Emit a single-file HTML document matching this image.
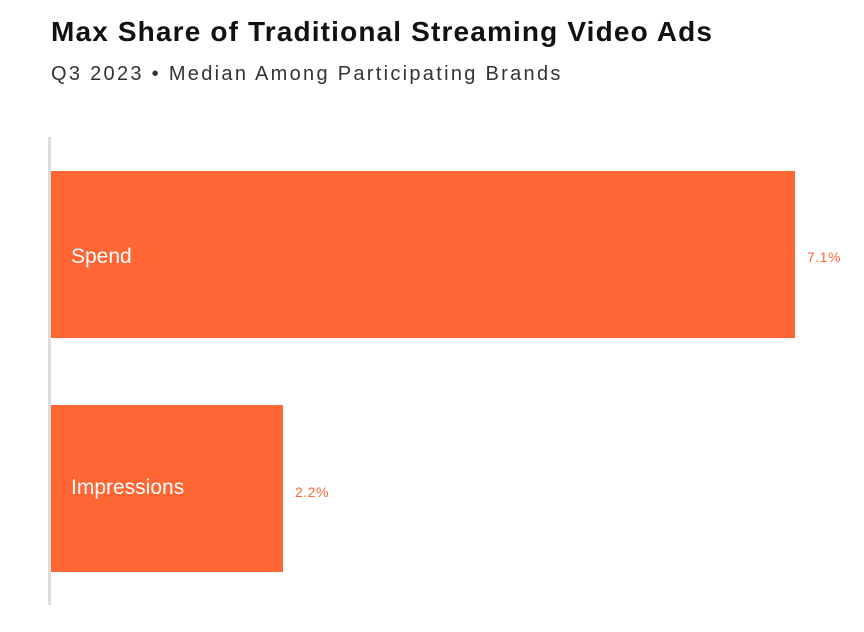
<!DOCTYPE html>
<html><head><style>
body{margin:0;width:864px;height:632px;background:#fff;position:relative;overflow:hidden;font-family:"Liberation Sans",sans-serif}
.t{position:absolute;left:51px;top:16px;font-size:28px;font-weight:bold;color:#111;letter-spacing:1.15px}
.s{position:absolute;left:51px;top:63px;font-size:20px;color:#333;letter-spacing:2.3px}
.ax{position:absolute;left:48px;top:137px;width:3px;height:468px;background:#ddd}
.b{position:absolute;left:51px;background:#ff6633}
.l{position:absolute;color:#fff;font-size:21px}
.v{position:absolute;color:#ff6633;font-size:14px;letter-spacing:0.5px}
</style></head><body>
<div class="t">Max Share of Traditional Streaming Video Ads</div>
<div class="s">Q3 2023 • Median Among Participating Brands</div>
<div class="ax"></div>
<div class="b" style="top:171px;width:744px;height:167px"></div>
<div class="l" style="left:71px;top:245px">Spend</div>
<div class="v" style="left:807px;top:249px">7.1%</div>
<div class="b" style="top:405px;width:232px;height:167px"></div>
<div class="l" style="left:71px;top:476px">Impressions</div>
<div class="v" style="left:295px;top:484px">2.2%</div>
</body></html>
